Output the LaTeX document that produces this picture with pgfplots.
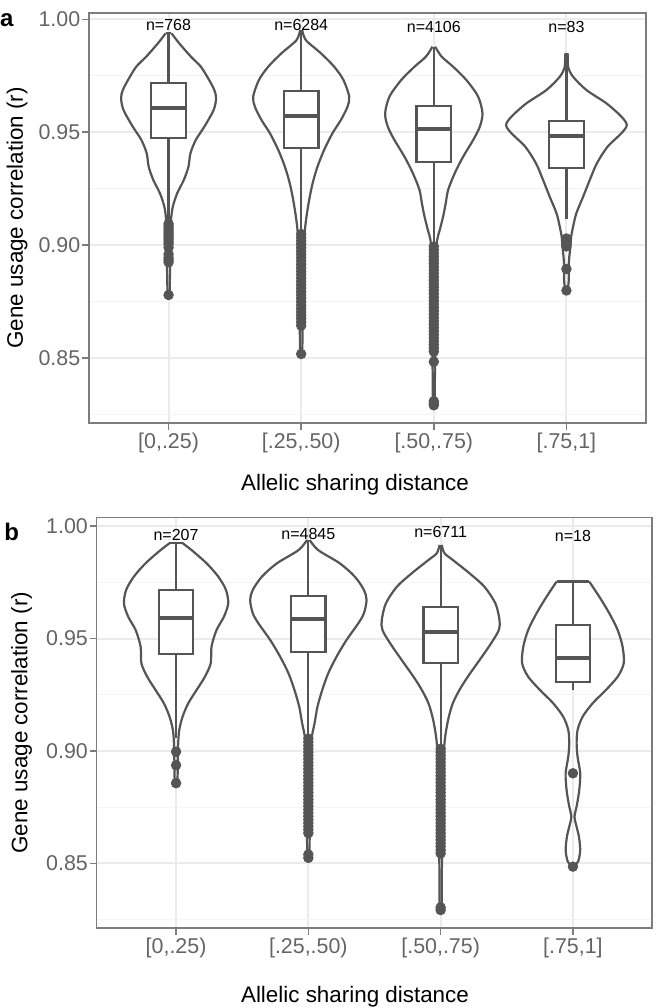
\documentclass[border=0pt]{standalone}
\usepackage{fontspec}
\setmainfont{Liberation Sans}
\usepackage{pgfplots}
\usepackage{pgfplotstable}
\pgfplotsset{compat=1.18}
\definecolor{vc}{RGB}{85,85,85}
\definecolor{gmaj}{RGB}{235,235,235}
\definecolor{gmin}{RGB}{244,244,244}
\definecolor{bord}{RGB}{125,125,125}
\definecolor{tlab}{RGB}{100,100,100}

% ---------- violin profiles (y, half width) ----------
\pgfplotstableread{
y w
0.8780 0.008
0.8850 0.010
0.8905 0.012
0.8960 0.013
0.9053 0.013
0.9112 0.018
0.9171 0.032
0.9230 0.065
0.9289 0.115
0.9348 0.150
0.9407 0.165
0.9466 0.205
0.9525 0.270
0.9599 0.340
0.9651 0.358
0.9687 0.345
0.9731 0.306
0.9790 0.244
0.9835 0.168
0.9894 0.080
0.9938 0.022
}\vaA
\pgfplotstableread{
y w
0.8522 0.008
0.8600 0.010
0.8700 0.012
0.8800 0.013
0.8900 0.015
0.9000 0.020
0.9068 0.028
0.9127 0.040
0.9200 0.060
0.9274 0.086
0.9348 0.123
0.9422 0.173
0.9496 0.236
0.9554 0.299
0.9613 0.349
0.9658 0.362
0.9731 0.319
0.9790 0.249
0.9850 0.148
0.9908 0.035
0.9953 0.008
}\vaB
\pgfplotstableread{
y w
0.8290 0.008
0.8400 0.008
0.8485 0.010
0.8550 0.012
0.8700 0.014
0.8850 0.016
0.8950 0.018
0.9023 0.025
0.9068 0.045
0.9127 0.070
0.9186 0.090
0.9245 0.108
0.9319 0.158
0.9392 0.221
0.9466 0.297
0.9525 0.347
0.9584 0.367
0.9658 0.334
0.9731 0.246
0.9790 0.146
0.9835 0.059
0.9879 0.010
}\vaC
\pgfplotstableread{
y w
0.8800 0.010
0.8850 0.018
0.8898 0.016
0.8950 0.022
0.8994 0.030
0.9038 0.036
0.9082 0.050
0.9142 0.075
0.9215 0.126
0.9289 0.176
0.9363 0.230
0.9436 0.310
0.9496 0.415
0.9532 0.455
0.9569 0.415
0.9628 0.302
0.9687 0.151
0.9746 0.050
0.9790 0.013
0.9849 0.010
}\vaD
\pgfplotstableread{
y w
0.8856 0.010
0.8900 0.012
0.8960 0.013
0.9034 0.016
0.9093 0.024
0.9152 0.049
0.9212 0.092
0.9271 0.155
0.9330 0.218
0.9390 0.262
0.9464 0.268
0.9538 0.306
0.9597 0.362
0.9656 0.394
0.9716 0.377
0.9775 0.319
0.9834 0.231
0.9893 0.117
0.9926 0.044
}\vbA
\pgfplotstableread{
y w
0.8516 0.008
0.8620 0.010
0.8800 0.012
0.8950 0.014
0.9030 0.020
0.9079 0.031
0.9123 0.047
0.9197 0.069
0.9271 0.105
0.9345 0.150
0.9419 0.213
0.9493 0.288
0.9567 0.377
0.9612 0.420
0.9671 0.440
0.9716 0.420
0.9775 0.351
0.9834 0.238
0.9893 0.074
0.9938 0.010
}\vbB
\pgfplotstableread{
y w
0.8283 0.008
0.8400 0.008
0.8516 0.010
0.8700 0.012
0.8900 0.014
0.9034 0.029
0.9093 0.042
0.9152 0.062
0.9212 0.092
0.9271 0.142
0.9330 0.205
0.9404 0.294
0.9479 0.382
0.9538 0.440
0.9582 0.445
0.9656 0.414
0.9730 0.331
0.9790 0.218
0.9849 0.092
0.9879 0.029
0.9916 0.008
}\vbC
\pgfplotstableread{
y w
0.8486 0.010
0.8510 0.040
0.8560 0.055
0.8620 0.045
0.8670 0.025
0.8708 0.012
0.8760 0.030
0.8827 0.048
0.8901 0.055
0.8975 0.035
0.9034 0.028
0.9093 0.035
0.9152 0.073
0.9212 0.149
0.9271 0.249
0.9330 0.338
0.9390 0.384
0.9464 0.375
0.9538 0.338
0.9612 0.275
0.9686 0.199
0.9753 0.1235
}\vbD

\newcommand\vio[2]{%
  \addplot[vc, line width=1.1pt, smooth, line join=round] table[x expr=#1+\thisrow{w}, y=y]{#2};
  \addplot[vc, line width=1.1pt, smooth, line join=round] table[x expr=#1-\thisrow{w}, y=y]{#2};
}
% \bx{xleft}{xright}{center}{lower whisker}{Q1}{median}{Q3}{upper whisker}
\newcommand\bx[8]{%
  \addplot[vc, line width=1.1pt] coordinates {(#3,#4) (#3,#5)};
  \addplot[vc, line width=1.1pt] coordinates {(#3,#7) (#3,#8)};
  \addplot[vc, line width=1.1pt, fill=white] coordinates {(#1,#5) (#2,#5) (#2,#7) (#1,#7)} -- cycle;
  \addplot[vc, line width=2pt] coordinates {(#1,#6) (#2,#6)};
}

\newcommand\labfont{\fontsize{11.2}{13}\selectfont}

\pgfplotsset{
  panel/.style={
    scale only axis, anchor=south west,
    xmin=0.4, xmax=4.6,
    xtick={1,2,3,4},
    xticklabels={{[0,.25)},{[.25,.50)},{[.50,.75)},{[.75,1]}},
    ytick={0.85,0.90,0.95,1.00},
    yticklabels={0.85,0.90,0.95,1.00},
    minor ytick={0.825,0.875,0.925,0.975},
    tick align=outside, tick pos=left,
    major tick length=3.4pt, minor tick length=0pt,
    tick style={bord, line width=0.8pt},
    axis line style={bord, line width=0.8pt},
    xmajorgrids, ymajorgrids, yminorgrids,
    major grid style={gmaj, line width=1pt},
    minor grid style={gmin, line width=0.5pt},
    ticklabel style={font=\fontsize{10.7}{12}\selectfont, text=tlab},
    xticklabel style={inner sep=1.2pt},
    yticklabel style={inner sep=0.8pt},
    clip mode=individual,
    outl/.style={only marks, mark=*, mark size=2.4pt, vc, mark options={draw=vc, fill=vc}},
  }
}

\begin{document}
\begin{tikzpicture}
\path[use as bounding box] (0,0) rectangle (333pt,504pt);

% ================= panel a =================
\begin{axis}[panel,
  at={(44.5pt,292.5pt)}, width=278.5pt, height=205.15pt,
  ymin=0.82137, ymax=1.00292,
  xlabel={Allelic sharing distance},
  ylabel={Gene usage correlation (r)},
  every axis x label/.style={at={(axis description cs:0.4776,-0.1511)}, anchor=center, font=\labfont},
  every axis y label/.style={at={(axis description cs:-0.1293,0.5)}, rotate=90, anchor=center, font=\labfont},
]
\vio{1}{\vaA}
\vio{2}{\vaB}
\vio{3}{\vaC}
\vio{4}{\vaD}
\addplot[vc, line width=1.1pt] coordinates {(0.978,0.9938) (1.022,0.9938)};
\bx{0.87}{1.13}{1}{0.9112}{0.9476}{0.9606}{0.9717}{0.9938}
\bx{1.87}{2.13}{2}{0.9058}{0.9432}{0.9572}{0.9683}{0.9953}
\bx{2.87}{3.13}{3}{0.9005}{0.9370}{0.9515}{0.9618}{0.9879}
\bx{3.87}{4.13}{4}{0.9115}{0.9341}{0.9485}{0.9551}{0.9849}
\addplot[outl] coordinates {
 (1,0.9095) (1,0.9085) (1,0.9075) (1,0.9065) (1,0.9055) (1,0.9045) (1,0.9035)
 (1,0.9025) (1,0.9015) (1,0.9005) (1,0.8990) (1,0.8960) (1,0.8945) (1,0.8935)
 (1,0.8925) (1,0.8780)};
\addplot[outl] coordinates {
 (2,0.9050) (2,0.9035) (2,0.9020) (2,0.9005) (2,0.8990) (2,0.8975) (2,0.8960)
 (2,0.8945) (2,0.8930) (2,0.8915) (2,0.8900) (2,0.8885) (2,0.8870) (2,0.8855)
 (2,0.8840) (2,0.8825) (2,0.8810) (2,0.8795) (2,0.8780) (2,0.8765) (2,0.8750)
 (2,0.8735) (2,0.8720) (2,0.8705) (2,0.8690) (2,0.8675) (2,0.8660) (2,0.8645)
 (2,0.8519)};
\addplot[outl] coordinates {
 (3,0.8995) (3,0.8980) (3,0.8965) (3,0.8950) (3,0.8935) (3,0.8920) (3,0.8905)
 (3,0.8890) (3,0.8875) (3,0.8860) (3,0.8845) (3,0.8830) (3,0.8815) (3,0.8800)
 (3,0.8785) (3,0.8770) (3,0.8755) (3,0.8740) (3,0.8725) (3,0.8710) (3,0.8695)
 (3,0.8680) (3,0.8665) (3,0.8650) (3,0.8635) (3,0.8620) (3,0.8605) (3,0.8590)
 (3,0.8575) (3,0.8560) (3,0.8545) (3,0.8530) (3,0.8485) (3,0.8310) (3,0.8300)
 (3,0.8292)};
\addplot[outl] coordinates {
 (4,0.9030) (4,0.9015) (4,0.9005) (4,0.8995) (4,0.8895) (4,0.8800)};
\node[font=\fontsize{8}{9}\selectfont] at (axis cs:1,0.9973) {n=768};
\node[font=\fontsize{8}{9}\selectfont] at (axis cs:2,0.9976) {n=6284};
\node[font=\fontsize{8}{9}\selectfont] at (axis cs:3,0.9968) {n=4106};
\node[font=\fontsize{8}{9}\selectfont] at (axis cs:4,0.9968) {n=83};
\end{axis}

% ================= panel b =================
\begin{axis}[panel,
  at={(48.35pt,40pt)}, width=277.8pt, height=205.25pt,
  ymin=0.82133, ymax=1.00378,
  xlabel={Allelic sharing distance},
  ylabel={Gene usage correlation (r)},
  every axis x label/.style={at={(axis description cs:0.4649,-0.1681)}, anchor=center, font=\labfont},
  every axis y label/.style={at={(axis description cs:-0.135,0.5)}, rotate=90, anchor=center, font=\labfont},
]
\vio{1}{\vbA}
\vio{2}{\vbB}
\vio{3}{\vbC}
\vio{4}{\vbD}
\addplot[vc, line width=1.1pt] coordinates {(0.956,0.9926) (1.044,0.9926)};
\addplot[vc, line width=1.1pt] coordinates {(3.8765,0.9753) (4.1235,0.9753)};
\bx{0.87}{1.13}{1}{0.9056}{0.9430}{0.9590}{0.9716}{0.9926}
\bx{1.87}{2.13}{2}{0.9068}{0.9439}{0.9585}{0.9689}{0.9938}
\bx{2.87}{3.13}{3}{0.9020}{0.9391}{0.9530}{0.9641}{0.9916}
\bx{3.87}{4.13}{4}{0.9271}{0.9305}{0.9412}{0.9560}{0.9753}
\addplot[outl] coordinates {(1,0.8997) (1,0.8937) (1,0.8857)};
\addplot[outl] coordinates {
 (2,0.9055) (2,0.9040) (2,0.9025) (2,0.9010) (2,0.8995) (2,0.8980) (2,0.8965)
 (2,0.8950) (2,0.8935) (2,0.8920) (2,0.8905) (2,0.8890) (2,0.8875) (2,0.8860)
 (2,0.8845) (2,0.8830) (2,0.8815) (2,0.8800) (2,0.8785) (2,0.8770) (2,0.8755)
 (2,0.8740) (2,0.8725) (2,0.8710) (2,0.8695) (2,0.8680) (2,0.8665) (2,0.8650)
 (2,0.8635) (2,0.8540) (2,0.8525)};
\addplot[outl] coordinates {
 (3,0.9010) (3,0.8995) (3,0.8980) (3,0.8965) (3,0.8950) (3,0.8935) (3,0.8920)
 (3,0.8905) (3,0.8890) (3,0.8875) (3,0.8860) (3,0.8845) (3,0.8830) (3,0.8815)
 (3,0.8800) (3,0.8785) (3,0.8770) (3,0.8755) (3,0.8740) (3,0.8725) (3,0.8710)
 (3,0.8695) (3,0.8680) (3,0.8665) (3,0.8650) (3,0.8635) (3,0.8620) (3,0.8605)
 (3,0.8590) (3,0.8575) (3,0.8560) (3,0.8545) (3,0.8305) (3,0.8293)};
\addplot[outl] coordinates {(4,0.8901) (4,0.8486)};
\node[font=\fontsize{8}{9}\selectfont] at (axis cs:1,0.9961) {n=207};
\node[font=\fontsize{8}{9}\selectfont] at (axis cs:2,0.9963) {n=4845};
\node[font=\fontsize{8}{9}\selectfont] at (axis cs:3,0.9973) {n=6711};
\node[font=\fontsize{8}{9}\selectfont] at (axis cs:4,0.9956) {n=18};
\end{axis}

\node[font=\fontsize{12}{14}\selectfont\bfseries] at (3.4pt,494pt) {a};
\node[font=\fontsize{12}{14}\selectfont\bfseries] at (5.9pt,237.8pt) {b};
\end{tikzpicture}
\end{document}
